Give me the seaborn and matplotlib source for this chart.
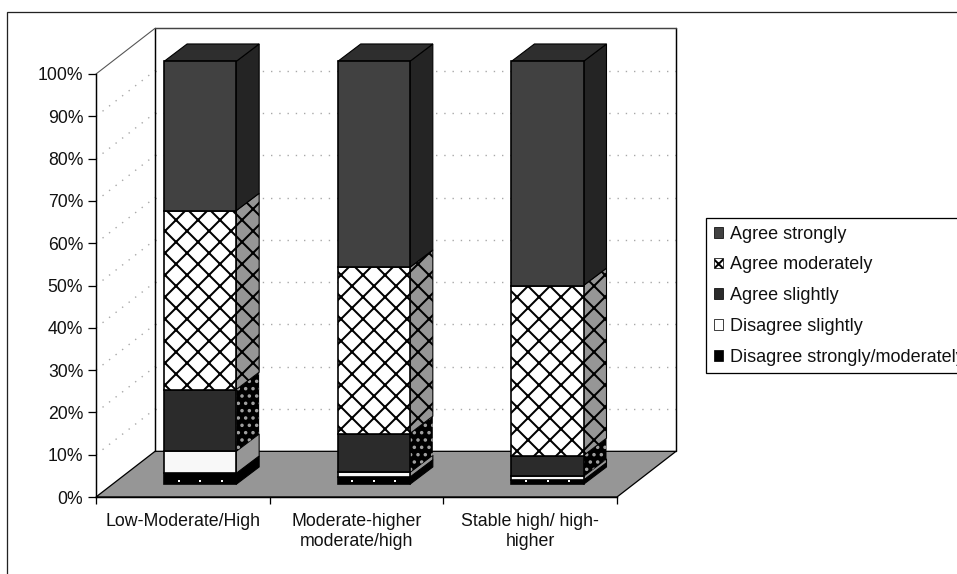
import numpy as np
import matplotlib
matplotlib.use("Agg")
import matplotlib.pyplot as plt
import seaborn as sns
from matplotlib.patches import Patch, Polygon, Rectangle

# Chart values
categories = ["Low-Moderate/High", "Moderate-higher\nmoderate/high", "Stable high/ high-\nhigher"]
series_names = ["Disagree strongly/moderately", "Disagree slightly", "Agree slightly",
                "Agree moderately", "Agree strongly"]
disagree_strong = [2.6, 1.7, 1.0]
disagree_slight = [5.2, 1.1, 0.9]
agree_slight = [14.6, 9.2, 4.9]
agree_moderate = [42.3, 39.3, 40.2]
agree_strong = [35.3, 48.7, 53.0]
y_ticks = [0, 10, 20, 30, 40, 50, 60, 70, 80, 90, 100]

# 3D look, in data units
bar_shift = 0.1
bar_width = 0.415
bar_base = 3.0
side_dx = 0.132
side_dy = 4.1
wall_dx = 0.34
wall_dy = 10.8
dot_steps = [-0.124, 0, 0.124]

DPI = 132
sns.set_theme(style="ticks")
plt.rcParams["font.family"] = ["Liberation Sans", "DejaVu Sans"]
plt.rcParams["hatch.linewidth"] = 1.1
plt.rcParams["text.color"] = "#111111"

fig = plt.figure(figsize=(957 / DPI, 574 / DPI), dpi=DPI, facecolor="white")
ax = fig.add_axes([96 / 957, 1 - 497 / 574, (617 - 96) / 957, (497 - 74) / 574])
ax.patch.set_visible(False)

# outer chart border, runs off the picture on the right and bottom
fig.add_artist(Rectangle((7 / 957, -0.1), 1.1, 1.1 - 12 / 574, transform=fig.transFigure,
                         fill=False, edgecolor="#222222", linewidth=0.7))

x_left, x_right = -0.5, 2.5
ax.set_xlim(x_left, x_right)
ax.set_ylim(0, 100)

# floor and back wall
ax.add_patch(Polygon([(x_left, 0), (x_left + wall_dx, wall_dy), (x_right + wall_dx, wall_dy), (x_right, 0)],
                     facecolor="#969696", edgecolor="black", linewidth=0.7, clip_on=False, zorder=1))
for wx in [x_left + wall_dx, x_right + wall_dx]:
    ax.plot([wx, wx], [wall_dy, 100 + wall_dy], color="black", lw=0.8, clip_on=False, zorder=1.2)
ax.plot([x_left, x_left + wall_dx], [100, 100 + wall_dy], color="#555555", lw=0.6, clip_on=False, zorder=1.2)
ax.plot([x_left + wall_dx, x_right + wall_dx], [100 + wall_dy, 100 + wall_dy], color="#444444", lw=0.8,
        clip_on=False, zorder=1.2)

# dotted gridlines on both walls
for t in y_ticks[1:-1]:
    ax.plot([x_left, x_left + wall_dx], [t, t + wall_dy], color="#a8a8a8", lw=0.75, ls=(0, (1, 5)), clip_on=False, zorder=1.1)
    ax.plot([x_left + wall_dx, x_right + wall_dx], [t + wall_dy] * 2, color="#a8a8a8", lw=0.75, ls=(0, (1, 5)),
            clip_on=False, zorder=1.1)

positions = np.arange(len(categories)) + bar_shift
stack = [disagree_strong, disagree_slight, agree_slight, agree_moderate, agree_strong]
front_style = [
    dict(color="black", edgecolor="black", linewidth=0.9),
    dict(color="#f8f8f8", edgecolor="black", linewidth=0.9),
    dict(color="#2b2b2b", edgecolor="black", linewidth=0.9),
    dict(color="white", edgecolor="black", hatch="xx", linewidth=0.9),
    dict(color="#414141", edgecolor="black", linewidth=0.9),
]
side_style = [
    dict(facecolor="black", edgecolor="black", linewidth=0.6),
    dict(facecolor="#969696", edgecolor="black", linewidth=0.6),
    dict(facecolor="black", edgecolor="#a0a0a0", hatch="...", linewidth=0),
    dict(facecolor="#969696", edgecolor="black", hatch="xx", linewidth=0.6),
    dict(facecolor="#242424", edgecolor="black", linewidth=0.6),
]

bottom = np.full(len(categories), bar_base, dtype=float)
for vals, front, side in zip(stack, front_style, side_style):
    vals = np.array(vals)
    sns.barplot(x=positions, y=vals, bottom=bottom, native_scale=True, width=bar_width,
                saturation=1, errorbar=None, ax=ax, zorder=3, clip_on=False, **front)
    for p, b, v in zip(positions, bottom, vals):
        xr = p + bar_width / 2
        ax.add_patch(Polygon([(xr, b), (xr + side_dx, b + side_dy), (xr + side_dx, b + v + side_dy), (xr, b + v)],
                             clip_on=False, zorder=2.5, **side))
    bottom = bottom + vals

# top faces of the columns
for p, b in zip(positions, bottom):
    xl = p - bar_width / 2
    xr = p + bar_width / 2
    ax.add_patch(Polygon([(xl, b), (xl + side_dx, b + side_dy), (xr + side_dx, b + side_dy), (xr, b)],
                         facecolor="#2e2e2e", edgecolor="black", linewidth=0.6, clip_on=False, zorder=2.5))

# white pattern dots on the bottom segment
for p in positions:
    ax.scatter([p + d for d in dot_steps], [bar_base + 0.85] * 3, s=2.2, marker="s", color="white",
               linewidths=0, zorder=4, clip_on=False)

# axes, ticks, labels
sns.despine(ax=ax)
for s in ["left", "bottom"]:
    ax.spines[s].set_linewidth(0.8)
    ax.spines[s].set_color("black")
ax.set_xlim(x_left, x_right)
ax.set_ylim(0, 100)
ax.set_xlabel("")
ax.set_ylabel("")
ax.set_xticks([-0.5, 0.5, 1.5, 2.5])
ax.set_xticklabels([])
ax.set_xticks([0, 1, 2], labels=categories, minor=True, linespacing=1.3)
ax.tick_params(axis="x", which="major", length=4, width=0.7, color="black")
ax.tick_params(axis="x", which="minor", length=0, pad=8.5, labelsize=9.7, labelcolor="#111111")
ax.set_yticks(y_ticks)
ax.set_yticklabels([f"{t}%" for t in y_ticks], fontsize=9.6, color="#111111")
ax.tick_params(axis="y", length=4.4, width=0.7, color="black", pad=2.6)

# legend swatches follow the stack from top to bottom
handles = [
    Patch(facecolor="#414141", edgecolor="black", linewidth=0.4, label=series_names[4]),
    Patch(facecolor="white", edgecolor="black", hatch="xxx", linewidth=0.4, label=series_names[3]),
    Patch(facecolor="#2b2b2b", edgecolor="black", linewidth=0.4, label=series_names[2]),
    Patch(facecolor="white", edgecolor="black", linewidth=0.4, label=series_names[1]),
    Patch(facecolor="black", edgecolor="black", linewidth=0.4, label=series_names[0]),
]
leg = fig.legend(handles=handles, loc="upper left", bbox_to_anchor=(706 / 957, 1 - 218 / 574),
                 frameon=True, fancybox=False, framealpha=1, edgecolor="black", fontsize=9.8,
                 handlelength=0.55, handleheight=0.55, handletextpad=0.36, labelspacing=0.765,
                 borderaxespad=0, borderpad=0.42)
leg.get_frame().set_linewidth(0.7)

fig.savefig("out.png", dpi=DPI)
